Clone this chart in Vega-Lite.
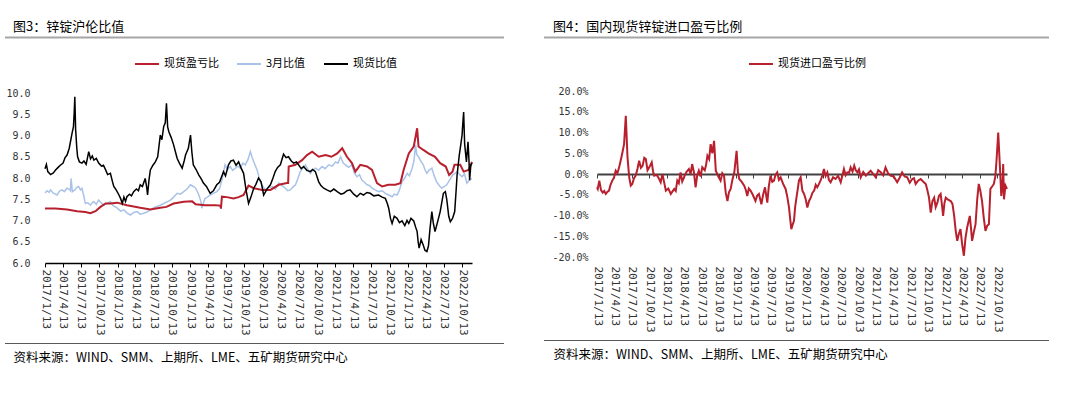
{
  "$schema": "https://vega.github.io/schema/vega-lite/v6.json",
  "padding": {"left": 4, "top": 20, "right": 0, "bottom": 0},
  "background": "white",
  "config": {
    "view": {"stroke": null},
    "font": "Noto Sans CJK SC",
    "title": {"font": "Noto Sans CJK SC", "fontSize": 13, "fontWeight": "normal", "color": "#000000", "anchor": "start"},
    "axis": {"grid": false, "title": null, "labelColor": "#333333"},
    "legend": {"labelLimit": 0}
  },
  "resolve": {"scale": {"color": "independent"}, "legend": {"color": "independent"}},
  "datasets": {
    "zinc": [
      {"d": "2017-01-13", "s": "现货比值", "v": 8.22}, {"d": "2017-01-20", "s": "现货比值", "v": 8.32}, {"d": "2017-01-27", "s": "现货比值", "v": 8.15}, {"d": "2017-02-10", "s": "现货比值", "v": 8.08}, {"d": "2017-02-24", "s": "现货比值", "v": 8.12}, {"d": "2017-03-06", "s": "现货比值", "v": 8.18}, {"d": "2017-03-20", "s": "现货比值", "v": 8.25}, {"d": "2017-03-31", "s": "现货比值", "v": 8.30}, {"d": "2017-04-14", "s": "现货比值", "v": 8.35}, {"d": "2017-04-24", "s": "现货比值", "v": 8.48}, {"d": "2017-05-04", "s": "现货比值", "v": 8.54}, {"d": "2017-05-15", "s": "现货比值", "v": 8.70}, {"d": "2017-05-29", "s": "现货比值", "v": 9.05}, {"d": "2017-06-05", "s": "现货比值", "v": 9.20}, {"d": "2017-06-09", "s": "现货比值", "v": 9.55}, {"d": "2017-06-12", "s": "现货比值", "v": 9.91}, {"d": "2017-06-16", "s": "现货比值", "v": 9.15}, {"d": "2017-06-22", "s": "现货比值", "v": 8.70}, {"d": "2017-06-26", "s": "现货比值", "v": 8.50}, {"d": "2017-07-05", "s": "现货比值", "v": 8.38}, {"d": "2017-07-18", "s": "现货比值", "v": 8.35}, {"d": "2017-07-28", "s": "现货比值", "v": 8.40}, {"d": "2017-08-08", "s": "现货比值", "v": 8.32}, {"d": "2017-08-21", "s": "现货比值", "v": 8.62}, {"d": "2017-08-30", "s": "现货比值", "v": 8.45}, {"d": "2017-09-08", "s": "现货比值", "v": 8.52}, {"d": "2017-09-16", "s": "现货比值", "v": 8.42}, {"d": "2017-09-28", "s": "现货比值", "v": 8.46}, {"d": "2017-10-10", "s": "现货比值", "v": 8.35}, {"d": "2017-10-24", "s": "现货比值", "v": 8.28}, {"d": "2017-11-03", "s": "现货比值", "v": 8.30}, {"d": "2017-11-14", "s": "现货比值", "v": 8.19}, {"d": "2017-11-24", "s": "现货比值", "v": 8.08}, {"d": "2017-12-08", "s": "现货比值", "v": 8.11}, {"d": "2017-12-18", "s": "现货比值", "v": 7.92}, {"d": "2017-12-25", "s": "现货比值", "v": 7.80}, {"d": "2018-01-06", "s": "现货比值", "v": 7.72}, {"d": "2018-01-20", "s": "现货比值", "v": 7.60}, {"d": "2018-01-28", "s": "现货比值", "v": 7.52}, {"d": "2018-02-06", "s": "现货比值", "v": 7.40}, {"d": "2018-02-14", "s": "现货比值", "v": 7.55}, {"d": "2018-02-22", "s": "现货比值", "v": 7.45}, {"d": "2018-03-01", "s": "现货比值", "v": 7.56}, {"d": "2018-03-14", "s": "现货比值", "v": 7.62}, {"d": "2018-03-24", "s": "现货比值", "v": 7.58}, {"d": "2018-04-04", "s": "现货比值", "v": 7.68}, {"d": "2018-04-18", "s": "现货比值", "v": 7.74}, {"d": "2018-04-28", "s": "现货比值", "v": 7.70}, {"d": "2018-05-07", "s": "现货比值", "v": 7.84}, {"d": "2018-05-18", "s": "现货比值", "v": 7.80}, {"d": "2018-06-01", "s": "现货比值", "v": 7.99}, {"d": "2018-06-08", "s": "现货比值", "v": 7.80}, {"d": "2018-06-13", "s": "现货比值", "v": 7.60}, {"d": "2018-06-20", "s": "现货比值", "v": 7.95}, {"d": "2018-06-27", "s": "现货比值", "v": 8.19}, {"d": "2018-07-10", "s": "现货比值", "v": 8.30}, {"d": "2018-07-22", "s": "现货比值", "v": 8.38}, {"d": "2018-08-03", "s": "现货比值", "v": 8.50}, {"d": "2018-08-16", "s": "现货比值", "v": 9.01}, {"d": "2018-08-24", "s": "现货比值", "v": 8.90}, {"d": "2018-09-02", "s": "现货比值", "v": 9.21}, {"d": "2018-09-10", "s": "现货比值", "v": 9.30}, {"d": "2018-09-16", "s": "现货比值", "v": 9.76}, {"d": "2018-09-22", "s": "现货比值", "v": 9.20}, {"d": "2018-09-28", "s": "现货比值", "v": 9.09}, {"d": "2018-10-10", "s": "现货比值", "v": 8.95}, {"d": "2018-10-22", "s": "现货比值", "v": 8.78}, {"d": "2018-11-01", "s": "现货比值", "v": 8.60}, {"d": "2018-11-09", "s": "现货比值", "v": 8.46}, {"d": "2018-11-20", "s": "现货比值", "v": 8.35}, {"d": "2018-12-04", "s": "现货比值", "v": 8.23}, {"d": "2018-12-14", "s": "现货比值", "v": 8.40}, {"d": "2018-12-21", "s": "现货比值", "v": 8.54}, {"d": "2019-01-04", "s": "现货比值", "v": 8.70}, {"d": "2019-01-15", "s": "现货比值", "v": 9.01}, {"d": "2019-01-22", "s": "现货比值", "v": 8.60}, {"d": "2019-01-29", "s": "现货比值", "v": 8.31}, {"d": "2019-02-12", "s": "现货比值", "v": 8.20}, {"d": "2019-02-26", "s": "现货比值", "v": 8.07}, {"d": "2019-03-10", "s": "现货比值", "v": 7.98}, {"d": "2019-03-21", "s": "现货比值", "v": 7.88}, {"d": "2019-04-05", "s": "现货比值", "v": 7.80}, {"d": "2019-04-24", "s": "现货比值", "v": 7.64}, {"d": "2019-05-10", "s": "现货比值", "v": 7.70}, {"d": "2019-05-27", "s": "现货比值", "v": 7.84}, {"d": "2019-06-10", "s": "现货比值", "v": 7.90}, {"d": "2019-06-30", "s": "现货比值", "v": 8.15}, {"d": "2019-07-10", "s": "现货比值", "v": 8.05}, {"d": "2019-07-25", "s": "现货比值", "v": 8.31}, {"d": "2019-08-06", "s": "现货比值", "v": 8.40}, {"d": "2019-08-19", "s": "现货比值", "v": 8.42}, {"d": "2019-09-01", "s": "现货比值", "v": 8.30}, {"d": "2019-09-14", "s": "现货比值", "v": 8.38}, {"d": "2019-09-25", "s": "现货比值", "v": 8.25}, {"d": "2019-10-09", "s": "现货比值", "v": 8.11}, {"d": "2019-10-22", "s": "现货比值", "v": 7.70}, {"d": "2019-11-03", "s": "现货比值", "v": 7.40}, {"d": "2019-11-15", "s": "现货比值", "v": 7.55}, {"d": "2019-11-29", "s": "现货比值", "v": 7.76}, {"d": "2019-12-10", "s": "现货比值", "v": 7.85}, {"d": "2019-12-23", "s": "现货比值", "v": 8.00}, {"d": "2020-01-05", "s": "现货比值", "v": 7.91}, {"d": "2020-01-18", "s": "现货比值", "v": 7.60}, {"d": "2020-02-05", "s": "现货比值", "v": 7.75}, {"d": "2020-02-21", "s": "现货比值", "v": 7.84}, {"d": "2020-03-05", "s": "现货比值", "v": 8.00}, {"d": "2020-03-16", "s": "现货比值", "v": 8.15}, {"d": "2020-03-28", "s": "现货比值", "v": 8.25}, {"d": "2020-04-11", "s": "现货比值", "v": 8.31}, {"d": "2020-04-27", "s": "现货比值", "v": 8.56}, {"d": "2020-05-10", "s": "现货比值", "v": 8.48}, {"d": "2020-05-22", "s": "现货比值", "v": 8.50}, {"d": "2020-06-05", "s": "现货比值", "v": 8.40}, {"d": "2020-06-17", "s": "现货比值", "v": 8.35}, {"d": "2020-07-01", "s": "现货比值", "v": 8.38}, {"d": "2020-07-12", "s": "现货比值", "v": 8.31}, {"d": "2020-07-25", "s": "现货比值", "v": 8.22}, {"d": "2020-08-06", "s": "现货比值", "v": 8.27}, {"d": "2020-08-22", "s": "现货比值", "v": 8.18}, {"d": "2020-09-09", "s": "现货比值", "v": 8.15}, {"d": "2020-09-20", "s": "现货比值", "v": 8.20}, {"d": "2020-10-04", "s": "现货比值", "v": 8.15}, {"d": "2020-10-21", "s": "现货比值", "v": 7.91}, {"d": "2020-11-01", "s": "现货比值", "v": 7.82}, {"d": "2020-11-15", "s": "现货比值", "v": 7.76}, {"d": "2020-12-01", "s": "现货比值", "v": 7.72}, {"d": "2020-12-19", "s": "现货比值", "v": 7.68}, {"d": "2021-01-05", "s": "现货比值", "v": 7.74}, {"d": "2021-01-22", "s": "现货比值", "v": 7.68}, {"d": "2021-02-10", "s": "现货比值", "v": 7.62}, {"d": "2021-02-24", "s": "现货比值", "v": 7.64}, {"d": "2021-03-12", "s": "现货比值", "v": 7.70}, {"d": "2021-03-28", "s": "现货比值", "v": 7.72}, {"d": "2021-04-15", "s": "现货比值", "v": 7.62}, {"d": "2021-05-01", "s": "现货比值", "v": 7.56}, {"d": "2021-05-18", "s": "现货比值", "v": 7.64}, {"d": "2021-06-03", "s": "现货比值", "v": 7.60}, {"d": "2021-06-20", "s": "现货比值", "v": 7.66}, {"d": "2021-07-07", "s": "现货比值", "v": 7.64}, {"d": "2021-07-25", "s": "现货比值", "v": 7.58}, {"d": "2021-08-18", "s": "现货比值", "v": 7.60}, {"d": "2021-09-05", "s": "现货比值", "v": 7.55}, {"d": "2021-09-21", "s": "现货比值", "v": 7.52}, {"d": "2021-10-01", "s": "现货比值", "v": 7.40}, {"d": "2021-10-08", "s": "现货比值", "v": 7.29}, {"d": "2021-10-17", "s": "现货比值", "v": 7.05}, {"d": "2021-10-25", "s": "现货比值", "v": 6.93}, {"d": "2021-11-05", "s": "现货比值", "v": 7.10}, {"d": "2021-11-19", "s": "现货比值", "v": 7.05}, {"d": "2021-12-01", "s": "现货比值", "v": 6.95}, {"d": "2021-12-14", "s": "现货比值", "v": 6.99}, {"d": "2021-12-28", "s": "现货比值", "v": 6.88}, {"d": "2022-01-08", "s": "现货比值", "v": 7.00}, {"d": "2022-01-17", "s": "现货比值", "v": 6.93}, {"d": "2022-01-28", "s": "现货比值", "v": 7.05}, {"d": "2022-02-11", "s": "现货比值", "v": 6.99}, {"d": "2022-02-20", "s": "现货比值", "v": 6.85}, {"d": "2022-02-28", "s": "现货比值", "v": 6.74}, {"d": "2022-03-05", "s": "现货比值", "v": 6.50}, {"d": "2022-03-10", "s": "现货比值", "v": 6.35}, {"d": "2022-03-20", "s": "现货比值", "v": 6.55}, {"d": "2022-03-31", "s": "现货比值", "v": 6.42}, {"d": "2022-04-08", "s": "现货比值", "v": 6.30}, {"d": "2022-04-18", "s": "现货比值", "v": 6.27}, {"d": "2022-04-26", "s": "现货比值", "v": 6.40}, {"d": "2022-05-04", "s": "现货比值", "v": 6.82}, {"d": "2022-05-13", "s": "现货比值", "v": 7.21}, {"d": "2022-05-20", "s": "现货比值", "v": 6.95}, {"d": "2022-05-29", "s": "现货比值", "v": 6.74}, {"d": "2022-06-10", "s": "现货比值", "v": 6.95}, {"d": "2022-06-24", "s": "现货比值", "v": 7.21}, {"d": "2022-07-03", "s": "现货比值", "v": 7.45}, {"d": "2022-07-10", "s": "现货比值", "v": 7.64}, {"d": "2022-07-20", "s": "现货比值", "v": 7.68}, {"d": "2022-07-27", "s": "现货比值", "v": 7.50}, {"d": "2022-08-06", "s": "现货比值", "v": 7.10}, {"d": "2022-08-14", "s": "现货比值", "v": 6.97}, {"d": "2022-08-25", "s": "现货比值", "v": 7.05}, {"d": "2022-09-05", "s": "现货比值", "v": 7.21}, {"d": "2022-09-12", "s": "现货比值", "v": 7.70}, {"d": "2022-09-17", "s": "现货比值", "v": 8.07}, {"d": "2022-09-28", "s": "现货比值", "v": 8.54}, {"d": "2022-10-06", "s": "现货比值", "v": 8.80}, {"d": "2022-10-12", "s": "现货比值", "v": 9.01}, {"d": "2022-10-16", "s": "现货比值", "v": 9.30}, {"d": "2022-10-20", "s": "现货比值", "v": 9.55}, {"d": "2022-10-25", "s": "现货比值", "v": 8.80}, {"d": "2022-11-03", "s": "现货比值", "v": 8.38}, {"d": "2022-11-11", "s": "现货比值", "v": 8.85}, {"d": "2022-11-16", "s": "现货比值", "v": 8.40}, {"d": "2022-11-19", "s": "现货比值", "v": 7.95}, {"d": "2022-11-25", "s": "现货比值", "v": 8.30}, {"d": "2022-12-01", "s": "现货比值", "v": 8.35},

      {"d": "2017-01-13", "s": "3月比值", "v": 7.65}, {"d": "2017-01-24", "s": "3月比值", "v": 7.70}, {"d": "2017-02-03", "s": "3月比值", "v": 7.66}, {"d": "2017-02-10", "s": "3月比值", "v": 7.72}, {"d": "2017-02-22", "s": "3月比值", "v": 7.65}, {"d": "2017-03-06", "s": "3月比值", "v": 7.62}, {"d": "2017-03-15", "s": "3月比值", "v": 7.60}, {"d": "2017-03-28", "s": "3月比值", "v": 7.70}, {"d": "2017-04-09", "s": "3月比值", "v": 7.72}, {"d": "2017-04-20", "s": "3月比值", "v": 7.68}, {"d": "2017-05-04", "s": "3月比值", "v": 7.76}, {"d": "2017-05-14", "s": "3月比值", "v": 7.74}, {"d": "2017-05-21", "s": "3月比值", "v": 7.70}, {"d": "2017-05-24", "s": "3月比值", "v": 7.99}, {"d": "2017-05-31", "s": "3月比值", "v": 7.68}, {"d": "2017-06-12", "s": "3月比值", "v": 7.72}, {"d": "2017-06-22", "s": "3月比值", "v": 7.78}, {"d": "2017-07-01", "s": "3月比值", "v": 7.80}, {"d": "2017-07-10", "s": "3月比值", "v": 7.72}, {"d": "2017-07-18", "s": "3月比值", "v": 7.76}, {"d": "2017-07-26", "s": "3月比值", "v": 7.60}, {"d": "2017-08-04", "s": "3月比值", "v": 7.40}, {"d": "2017-08-16", "s": "3月比值", "v": 7.42}, {"d": "2017-08-29", "s": "3月比值", "v": 7.36}, {"d": "2017-09-08", "s": "3月比值", "v": 7.42}, {"d": "2017-09-16", "s": "3月比值", "v": 7.44}, {"d": "2017-09-28", "s": "3月比值", "v": 7.38}, {"d": "2017-10-10", "s": "3月比值", "v": 7.48}, {"d": "2017-10-22", "s": "3月比值", "v": 7.42}, {"d": "2017-11-05", "s": "3月比值", "v": 7.36}, {"d": "2017-11-20", "s": "3月比值", "v": 7.40}, {"d": "2017-12-08", "s": "3月比值", "v": 7.44}, {"d": "2017-12-22", "s": "3月比值", "v": 7.35}, {"d": "2018-01-12", "s": "3月比值", "v": 7.29}, {"d": "2018-01-28", "s": "3月比值", "v": 7.22}, {"d": "2018-02-14", "s": "3月比值", "v": 7.25}, {"d": "2018-03-01", "s": "3月比值", "v": 7.18}, {"d": "2018-03-18", "s": "3月比值", "v": 7.13}, {"d": "2018-04-04", "s": "3月比值", "v": 7.19}, {"d": "2018-04-21", "s": "3月比值", "v": 7.21}, {"d": "2018-05-07", "s": "3月比值", "v": 7.15}, {"d": "2018-05-24", "s": "3月比值", "v": 7.17}, {"d": "2018-06-10", "s": "3月比值", "v": 7.20}, {"d": "2018-06-27", "s": "3月比值", "v": 7.25}, {"d": "2018-07-14", "s": "3月比值", "v": 7.30}, {"d": "2018-07-30", "s": "3月比值", "v": 7.33}, {"d": "2018-08-16", "s": "3月比值", "v": 7.36}, {"d": "2018-09-02", "s": "3月比值", "v": 7.40}, {"d": "2018-09-20", "s": "3月比值", "v": 7.44}, {"d": "2018-10-06", "s": "3月比值", "v": 7.48}, {"d": "2018-10-22", "s": "3月比值", "v": 7.55}, {"d": "2018-11-09", "s": "3月比值", "v": 7.64}, {"d": "2018-11-25", "s": "3月比值", "v": 7.62}, {"d": "2018-12-12", "s": "3月比值", "v": 7.68}, {"d": "2018-12-28", "s": "3月比值", "v": 7.74}, {"d": "2019-01-15", "s": "3月比值", "v": 7.84}, {"d": "2019-01-29", "s": "3月比值", "v": 7.80}, {"d": "2019-02-10", "s": "3月比值", "v": 7.76}, {"d": "2019-02-26", "s": "3月比值", "v": 7.60}, {"d": "2019-03-08", "s": "3月比值", "v": 7.45}, {"d": "2019-03-13", "s": "3月比值", "v": 7.29}, {"d": "2019-03-20", "s": "3月比值", "v": 7.40}, {"d": "2019-03-29", "s": "3月比值", "v": 7.52}, {"d": "2019-04-10", "s": "3月比值", "v": 7.55}, {"d": "2019-04-24", "s": "3月比值", "v": 7.60}, {"d": "2019-05-10", "s": "3月比值", "v": 7.64}, {"d": "2019-05-27", "s": "3月比值", "v": 7.68}, {"d": "2019-06-10", "s": "3月比值", "v": 7.75}, {"d": "2019-06-22", "s": "3月比值", "v": 7.95}, {"d": "2019-07-08", "s": "3月比值", "v": 8.31}, {"d": "2019-07-20", "s": "3月比值", "v": 8.20}, {"d": "2019-08-03", "s": "3月比值", "v": 8.27}, {"d": "2019-08-15", "s": "3月比值", "v": 8.18}, {"d": "2019-08-28", "s": "3月比值", "v": 8.23}, {"d": "2019-09-10", "s": "3月比值", "v": 8.28}, {"d": "2019-09-23", "s": "3月比值", "v": 8.23}, {"d": "2019-10-05", "s": "3月比值", "v": 8.35}, {"d": "2019-10-18", "s": "3月比值", "v": 8.31}, {"d": "2019-11-01", "s": "3月比值", "v": 8.45}, {"d": "2019-11-12", "s": "3月比值", "v": 8.62}, {"d": "2019-11-20", "s": "3月比值", "v": 8.50}, {"d": "2019-11-29", "s": "3月比值", "v": 8.38}, {"d": "2019-12-16", "s": "3月比值", "v": 8.19}, {"d": "2020-01-01", "s": "3月比值", "v": 7.91}, {"d": "2020-01-14", "s": "3月比值", "v": 7.80}, {"d": "2020-01-27", "s": "3月比值", "v": 7.72}, {"d": "2020-02-13", "s": "3月比值", "v": 7.78}, {"d": "2020-03-02", "s": "3月比值", "v": 7.80}, {"d": "2020-03-17", "s": "3月比值", "v": 7.74}, {"d": "2020-04-03", "s": "3月比值", "v": 7.88}, {"d": "2020-04-20", "s": "3月比值", "v": 7.82}, {"d": "2020-05-06", "s": "3月比值", "v": 7.76}, {"d": "2020-05-18", "s": "3月比值", "v": 7.70}, {"d": "2020-05-31", "s": "3月比值", "v": 7.72}, {"d": "2020-06-12", "s": "3月比值", "v": 7.78}, {"d": "2020-06-26", "s": "3月比值", "v": 7.84}, {"d": "2020-07-08", "s": "3月比值", "v": 7.98}, {"d": "2020-07-20", "s": "3月比值", "v": 8.15}, {"d": "2020-08-01", "s": "3月比值", "v": 8.22}, {"d": "2020-08-15", "s": "3月比值", "v": 8.31}, {"d": "2020-08-28", "s": "3月比值", "v": 8.20}, {"d": "2020-09-09", "s": "3月比值", "v": 8.11}, {"d": "2020-09-20", "s": "3月比值", "v": 8.18}, {"d": "2020-10-04", "s": "3月比值", "v": 8.23}, {"d": "2020-10-20", "s": "3月比值", "v": 8.18}, {"d": "2020-11-07", "s": "3月比值", "v": 8.27}, {"d": "2020-11-22", "s": "3月比值", "v": 8.22}, {"d": "2020-12-10", "s": "3月比值", "v": 8.31}, {"d": "2020-12-28", "s": "3月比值", "v": 8.28}, {"d": "2021-01-14", "s": "3月比值", "v": 8.38}, {"d": "2021-01-26", "s": "3月比值", "v": 8.35}, {"d": "2021-02-08", "s": "3月比值", "v": 8.50}, {"d": "2021-02-20", "s": "3月比值", "v": 8.36}, {"d": "2021-03-04", "s": "3月比值", "v": 8.31}, {"d": "2021-03-20", "s": "3月比值", "v": 8.25}, {"d": "2021-04-06", "s": "3月比值", "v": 8.31}, {"d": "2021-04-18", "s": "3月比值", "v": 8.12}, {"d": "2021-05-01", "s": "3月比值", "v": 8.03}, {"d": "2021-05-14", "s": "3月比值", "v": 8.08}, {"d": "2021-05-26", "s": "3月比值", "v": 7.95}, {"d": "2021-06-08", "s": "3月比值", "v": 7.90}, {"d": "2021-06-21", "s": "3月比值", "v": 7.84}, {"d": "2021-07-05", "s": "3月比值", "v": 7.82}, {"d": "2021-07-16", "s": "3月比值", "v": 7.76}, {"d": "2021-08-01", "s": "3月比值", "v": 7.72}, {"d": "2021-08-18", "s": "3月比值", "v": 7.68}, {"d": "2021-09-05", "s": "3月比值", "v": 7.70}, {"d": "2021-09-21", "s": "3月比值", "v": 7.64}, {"d": "2021-10-08", "s": "3月比值", "v": 7.60}, {"d": "2021-10-25", "s": "3月比值", "v": 7.56}, {"d": "2021-11-05", "s": "3月比值", "v": 7.62}, {"d": "2021-11-19", "s": "3月比值", "v": 7.60}, {"d": "2021-12-01", "s": "3月比值", "v": 7.72}, {"d": "2021-12-14", "s": "3月比值", "v": 7.91}, {"d": "2021-12-28", "s": "3月比值", "v": 8.00}, {"d": "2022-01-09", "s": "3月比值", "v": 8.11}, {"d": "2022-01-20", "s": "3月比值", "v": 8.05}, {"d": "2022-02-03", "s": "3月比值", "v": 8.23}, {"d": "2022-02-12", "s": "3月比值", "v": 8.40}, {"d": "2022-02-20", "s": "3月比值", "v": 8.78}, {"d": "2022-02-26", "s": "3月比值", "v": 8.55}, {"d": "2022-03-07", "s": "3月比值", "v": 8.50}, {"d": "2022-03-18", "s": "3月比值", "v": 8.40}, {"d": "2022-03-31", "s": "3月比值", "v": 8.31}, {"d": "2022-04-08", "s": "3月比值", "v": 8.20}, {"d": "2022-04-18", "s": "3月比值", "v": 8.11}, {"d": "2022-04-28", "s": "3月比值", "v": 8.18}, {"d": "2022-05-13", "s": "3月比值", "v": 8.23}, {"d": "2022-05-25", "s": "3月比值", "v": 8.05}, {"d": "2022-06-06", "s": "3月比值", "v": 7.91}, {"d": "2022-06-20", "s": "3月比值", "v": 7.82}, {"d": "2022-07-02", "s": "3月比值", "v": 7.76}, {"d": "2022-07-14", "s": "3月比值", "v": 7.80}, {"d": "2022-07-27", "s": "3月比值", "v": 7.84}, {"d": "2022-08-10", "s": "3月比值", "v": 7.95}, {"d": "2022-08-25", "s": "3月比值", "v": 8.07}, {"d": "2022-09-05", "s": "3月比值", "v": 8.10}, {"d": "2022-09-17", "s": "3月比值", "v": 8.15}, {"d": "2022-09-30", "s": "3月比值", "v": 8.08}, {"d": "2022-10-12", "s": "3月比值", "v": 8.03}, {"d": "2022-10-24", "s": "3月比值", "v": 8.10}, {"d": "2022-11-05", "s": "3月比值", "v": 7.88}, {"d": "2022-11-18", "s": "3月比值", "v": 7.95}, {"d": "2022-12-01", "s": "3月比值", "v": 7.99},

      {"d": "2017-01-13", "s": "现货盈亏比", "v": 7.28}, {"d": "2017-03-06", "s": "现货盈亏比", "v": 7.28}, {"d": "2017-05-04", "s": "现货盈亏比", "v": 7.26}, {"d": "2017-06-24", "s": "现货盈亏比", "v": 7.22}, {"d": "2017-08-04", "s": "现货盈亏比", "v": 7.20}, {"d": "2017-08-29", "s": "现货盈亏比", "v": 7.17}, {"d": "2017-09-24", "s": "现货盈亏比", "v": 7.22}, {"d": "2017-10-19", "s": "现货盈亏比", "v": 7.32}, {"d": "2017-11-14", "s": "现货盈亏比", "v": 7.40}, {"d": "2017-12-08", "s": "现货盈亏比", "v": 7.40}, {"d": "2018-01-12", "s": "现货盈亏比", "v": 7.42}, {"d": "2018-03-01", "s": "现货盈亏比", "v": 7.36}, {"d": "2018-04-04", "s": "现货盈亏比", "v": 7.33}, {"d": "2018-05-07", "s": "现货盈亏比", "v": 7.30}, {"d": "2018-06-27", "s": "现货盈亏比", "v": 7.26}, {"d": "2018-08-16", "s": "现货盈亏比", "v": 7.30}, {"d": "2018-09-16", "s": "现货盈亏比", "v": 7.32}, {"d": "2018-10-22", "s": "现货盈亏比", "v": 7.40}, {"d": "2018-12-12", "s": "现货盈亏比", "v": 7.44}, {"d": "2019-01-23", "s": "现货盈亏比", "v": 7.45}, {"d": "2019-02-10", "s": "现货盈亏比", "v": 7.38}, {"d": "2019-03-29", "s": "现货盈亏比", "v": 7.36}, {"d": "2019-05-19", "s": "现货盈亏比", "v": 7.36}, {"d": "2019-06-14", "s": "现货盈亏比", "v": 7.35}, {"d": "2019-06-17", "s": "现货盈亏比", "v": 7.28}, {"d": "2019-06-22", "s": "现货盈亏比", "v": 7.56}, {"d": "2019-07-17", "s": "现货盈亏比", "v": 7.55}, {"d": "2019-08-19", "s": "现货盈亏比", "v": 7.52}, {"d": "2019-09-14", "s": "现货盈亏比", "v": 7.55}, {"d": "2019-10-09", "s": "现货盈亏比", "v": 7.60}, {"d": "2019-10-22", "s": "现货盈亏比", "v": 7.72}, {"d": "2019-11-03", "s": "现货盈亏比", "v": 7.82}, {"d": "2019-11-29", "s": "现货盈亏比", "v": 7.76}, {"d": "2020-01-10", "s": "现货盈亏比", "v": 7.72}, {"d": "2020-02-21", "s": "现货盈亏比", "v": 7.72}, {"d": "2020-04-03", "s": "现货盈亏比", "v": 7.84}, {"d": "2020-05-14", "s": "现货盈亏比", "v": 7.88}, {"d": "2020-05-20", "s": "现货盈亏比", "v": 7.88}, {"d": "2020-05-23", "s": "现货盈亏比", "v": 8.27}, {"d": "2020-06-26", "s": "现货盈亏比", "v": 8.31}, {"d": "2020-07-29", "s": "现货盈亏比", "v": 8.42}, {"d": "2020-08-23", "s": "现货盈亏比", "v": 8.54}, {"d": "2020-09-18", "s": "现货盈亏比", "v": 8.62}, {"d": "2020-10-21", "s": "现货盈亏比", "v": 8.50}, {"d": "2020-11-24", "s": "现货盈亏比", "v": 8.54}, {"d": "2020-12-24", "s": "现货盈亏比", "v": 8.50}, {"d": "2021-01-22", "s": "现货盈亏比", "v": 8.58}, {"d": "2021-02-16", "s": "现货盈亏比", "v": 8.70}, {"d": "2021-03-12", "s": "现货盈亏比", "v": 8.50}, {"d": "2021-04-06", "s": "现货盈亏比", "v": 8.35}, {"d": "2021-04-23", "s": "现货盈亏比", "v": 8.15}, {"d": "2021-05-18", "s": "现货盈亏比", "v": 8.31}, {"d": "2021-06-21", "s": "现货盈亏比", "v": 8.27}, {"d": "2021-07-16", "s": "现货盈亏比", "v": 8.19}, {"d": "2021-08-10", "s": "现货盈亏比", "v": 7.88}, {"d": "2021-09-05", "s": "现货盈亏比", "v": 7.80}, {"d": "2021-10-06", "s": "现货盈亏比", "v": 7.84}, {"d": "2021-11-10", "s": "现货盈亏比", "v": 7.84}, {"d": "2021-12-06", "s": "现货盈亏比", "v": 7.88}, {"d": "2021-12-22", "s": "现货盈亏比", "v": 8.19}, {"d": "2022-01-17", "s": "现货盈亏比", "v": 8.58}, {"d": "2022-02-11", "s": "现货盈亏比", "v": 8.74}, {"d": "2022-02-28", "s": "现货盈亏比", "v": 9.17}, {"d": "2022-03-07", "s": "现货盈亏比", "v": 8.74}, {"d": "2022-03-31", "s": "现货盈亏比", "v": 8.66}, {"d": "2022-04-26", "s": "现货盈亏比", "v": 8.58}, {"d": "2022-05-29", "s": "现货盈亏比", "v": 8.50}, {"d": "2022-06-24", "s": "现货盈亏比", "v": 8.35}, {"d": "2022-07-22", "s": "现货盈亏比", "v": 8.27}, {"d": "2022-08-08", "s": "现货盈亏比", "v": 8.07}, {"d": "2022-08-25", "s": "现货盈亏比", "v": 8.15}, {"d": "2022-09-04", "s": "现货盈亏比", "v": 8.31}, {"d": "2022-10-03", "s": "现货盈亏比", "v": 8.31}, {"d": "2022-10-20", "s": "现货盈亏比", "v": 8.15}, {"d": "2022-11-14", "s": "现货盈亏比", "v": 8.19}, {"d": "2022-12-01", "s": "现货盈亏比", "v": 8.38}
    ],
    "imp": [
      {"d": "2017-01-13", "v": -3.2}, {"d": "2017-01-17", "v": -3.6}, {"d": "2017-01-25", "v": -1.6}, {"d": "2017-02-03", "v": -3.9}, {"d": "2017-02-12", "v": -4.5}, {"d": "2017-02-20", "v": -4.1}, {"d": "2017-02-28", "v": -4.8}, {"d": "2017-03-08", "v": -4.3}, {"d": "2017-03-17", "v": -4.0}, {"d": "2017-03-25", "v": -2.6}, {"d": "2017-04-03", "v": -1.6}, {"d": "2017-04-12", "v": -0.9}, {"d": "2017-04-21", "v": 0.8}, {"d": "2017-04-30", "v": 0.2}, {"d": "2017-05-09", "v": 1.6}, {"d": "2017-05-17", "v": 3.2}, {"d": "2017-05-26", "v": 5.1}, {"d": "2017-06-04", "v": 7.2}, {"d": "2017-06-13", "v": 14.0}, {"d": "2017-06-22", "v": 4.0}, {"d": "2017-07-01", "v": -0.8}, {"d": "2017-07-09", "v": -2.8}, {"d": "2017-07-17", "v": -2.4}, {"d": "2017-07-26", "v": -1.0}, {"d": "2017-08-04", "v": -0.4}, {"d": "2017-08-13", "v": 1.2}, {"d": "2017-08-22", "v": 3.2}, {"d": "2017-08-31", "v": 1.5}, {"d": "2017-09-09", "v": 2.0}, {"d": "2017-09-18", "v": 3.9}, {"d": "2017-09-26", "v": 3.6}, {"d": "2017-10-05", "v": 0.9}, {"d": "2017-10-14", "v": 1.6}, {"d": "2017-10-27", "v": 2.8}, {"d": "2017-11-03", "v": 0.6}, {"d": "2017-11-09", "v": -0.4}, {"d": "2017-11-22", "v": -0.2}, {"d": "2017-12-05", "v": -1.2}, {"d": "2017-12-13", "v": -2.0}, {"d": "2017-12-22", "v": 0.0}, {"d": "2018-01-01", "v": -2.2}, {"d": "2018-01-09", "v": -4.0}, {"d": "2018-01-22", "v": -3.5}, {"d": "2018-02-04", "v": -4.8}, {"d": "2018-02-13", "v": -4.2}, {"d": "2018-02-22", "v": -3.6}, {"d": "2018-03-02", "v": -4.1}, {"d": "2018-03-10", "v": -1.6}, {"d": "2018-03-18", "v": -2.2}, {"d": "2018-03-27", "v": 0.4}, {"d": "2018-04-05", "v": -1.8}, {"d": "2018-04-14", "v": -0.8}, {"d": "2018-04-27", "v": 0.5}, {"d": "2018-05-10", "v": 1.2}, {"d": "2018-05-19", "v": 0.0}, {"d": "2018-05-27", "v": 2.4}, {"d": "2018-06-05", "v": 0.5}, {"d": "2018-06-14", "v": -3.2}, {"d": "2018-06-22", "v": -0.5}, {"d": "2018-07-01", "v": 0.8}, {"d": "2018-07-10", "v": -0.6}, {"d": "2018-07-19", "v": 1.6}, {"d": "2018-08-01", "v": 0.9}, {"d": "2018-08-08", "v": 2.2}, {"d": "2018-08-15", "v": 4.4}, {"d": "2018-08-24", "v": 3.6}, {"d": "2018-09-01", "v": 7.2}, {"d": "2018-09-10", "v": 5.0}, {"d": "2018-09-19", "v": 8.0}, {"d": "2018-09-28", "v": 0.8}, {"d": "2018-10-10", "v": -0.5}, {"d": "2018-10-23", "v": -1.6}, {"d": "2018-11-01", "v": 0.2}, {"d": "2018-11-10", "v": -0.4}, {"d": "2018-11-19", "v": -4.5}, {"d": "2018-11-28", "v": -6.5}, {"d": "2018-12-06", "v": -4.4}, {"d": "2018-12-15", "v": -3.6}, {"d": "2018-12-24", "v": -1.4}, {"d": "2019-01-03", "v": 0.4}, {"d": "2019-01-15", "v": 5.6}, {"d": "2019-01-22", "v": 0.5}, {"d": "2019-01-29", "v": -1.2}, {"d": "2019-02-11", "v": -1.9}, {"d": "2019-02-24", "v": -2.8}, {"d": "2019-03-04", "v": -3.8}, {"d": "2019-03-12", "v": -5.3}, {"d": "2019-03-20", "v": -3.5}, {"d": "2019-03-29", "v": -4.0}, {"d": "2019-04-10", "v": -5.0}, {"d": "2019-04-24", "v": -6.5}, {"d": "2019-05-03", "v": -5.2}, {"d": "2019-05-12", "v": -4.8}, {"d": "2019-05-25", "v": -7.3}, {"d": "2019-06-03", "v": -5.0}, {"d": "2019-06-13", "v": -3.2}, {"d": "2019-06-25", "v": -6.9}, {"d": "2019-07-03", "v": -3.0}, {"d": "2019-07-12", "v": -0.4}, {"d": "2019-07-21", "v": -1.9}, {"d": "2019-07-30", "v": -1.6}, {"d": "2019-08-07", "v": -0.2}, {"d": "2019-08-16", "v": 0.4}, {"d": "2019-08-25", "v": -1.4}, {"d": "2019-09-03", "v": -0.8}, {"d": "2019-09-16", "v": -2.4}, {"d": "2019-09-29", "v": -3.6}, {"d": "2019-10-08", "v": -5.5}, {"d": "2019-10-17", "v": -8.1}, {"d": "2019-10-23", "v": -10.8}, {"d": "2019-10-29", "v": -13.3}, {"d": "2019-11-05", "v": -12.2}, {"d": "2019-11-12", "v": -11.3}, {"d": "2019-11-18", "v": -8.0}, {"d": "2019-11-25", "v": -5.7}, {"d": "2019-12-02", "v": -3.5}, {"d": "2019-12-08", "v": -1.6}, {"d": "2019-12-17", "v": -0.8}, {"d": "2019-12-26", "v": -4.0}, {"d": "2020-01-04", "v": -4.8}, {"d": "2020-01-12", "v": -6.0}, {"d": "2020-01-21", "v": -8.1}, {"d": "2020-01-30", "v": -6.5}, {"d": "2020-02-08", "v": -5.7}, {"d": "2020-02-17", "v": -4.5}, {"d": "2020-02-26", "v": -4.0}, {"d": "2020-03-05", "v": -2.6}, {"d": "2020-03-13", "v": -3.2}, {"d": "2020-03-21", "v": -2.5}, {"d": "2020-03-30", "v": -1.6}, {"d": "2020-04-08", "v": -0.5}, {"d": "2020-04-17", "v": 1.2}, {"d": "2020-04-26", "v": -0.5}, {"d": "2020-05-05", "v": 0.4}, {"d": "2020-05-13", "v": -1.4}, {"d": "2020-05-22", "v": -2.0}, {"d": "2020-06-04", "v": -0.8}, {"d": "2020-06-17", "v": -1.2}, {"d": "2020-06-30", "v": -0.4}, {"d": "2020-07-14", "v": -2.0}, {"d": "2020-07-22", "v": -0.5}, {"d": "2020-07-31", "v": 1.2}, {"d": "2020-08-09", "v": -0.3}, {"d": "2020-08-18", "v": 0.4}, {"d": "2020-08-27", "v": 0.3}, {"d": "2020-09-04", "v": 1.6}, {"d": "2020-09-14", "v": 0.6}, {"d": "2020-09-23", "v": 2.0}, {"d": "2020-10-01", "v": 0.9}, {"d": "2020-10-10", "v": 0.4}, {"d": "2020-10-18", "v": 1.1}, {"d": "2020-10-27", "v": -0.8}, {"d": "2020-11-09", "v": 0.5}, {"d": "2020-11-23", "v": -0.4}, {"d": "2020-12-05", "v": 0.2}, {"d": "2020-12-18", "v": 0.8}, {"d": "2021-01-01", "v": 0.0}, {"d": "2021-01-14", "v": -0.8}, {"d": "2021-01-27", "v": 0.9}, {"d": "2021-02-10", "v": 0.4}, {"d": "2021-02-22", "v": -0.3}, {"d": "2021-03-06", "v": 1.6}, {"d": "2021-03-19", "v": 0.2}, {"d": "2021-04-01", "v": -0.4}, {"d": "2021-04-18", "v": -0.6}, {"d": "2021-05-06", "v": -2.0}, {"d": "2021-05-19", "v": -0.9}, {"d": "2021-06-01", "v": 0.4}, {"d": "2021-06-14", "v": -0.6}, {"d": "2021-06-28", "v": -0.8}, {"d": "2021-07-11", "v": -2.1}, {"d": "2021-07-24", "v": -1.2}, {"d": "2021-08-02", "v": -1.0}, {"d": "2021-08-11", "v": -2.4}, {"d": "2021-08-24", "v": -1.6}, {"d": "2021-09-06", "v": -1.2}, {"d": "2021-09-19", "v": -1.8}, {"d": "2021-10-03", "v": -2.4}, {"d": "2021-10-11", "v": -3.8}, {"d": "2021-10-20", "v": -5.7}, {"d": "2021-10-29", "v": -9.3}, {"d": "2021-11-07", "v": -6.5}, {"d": "2021-11-16", "v": -5.7}, {"d": "2021-11-24", "v": -8.0}, {"d": "2021-12-03", "v": -6.9}, {"d": "2021-12-11", "v": -5.3}, {"d": "2021-12-20", "v": -4.8}, {"d": "2021-12-27", "v": -7.5}, {"d": "2022-01-02", "v": -10.1}, {"d": "2022-01-09", "v": -7.0}, {"d": "2022-01-16", "v": -5.7}, {"d": "2022-01-28", "v": -6.2}, {"d": "2022-02-11", "v": -6.5}, {"d": "2022-02-20", "v": -7.2}, {"d": "2022-03-01", "v": -10.1}, {"d": "2022-03-09", "v": -13.7}, {"d": "2022-03-17", "v": -16.1}, {"d": "2022-03-25", "v": -14.5}, {"d": "2022-04-03", "v": -13.3}, {"d": "2022-04-12", "v": -17.0}, {"d": "2022-04-21", "v": -19.7}, {"d": "2022-04-29", "v": -15.5}, {"d": "2022-05-08", "v": -12.9}, {"d": "2022-05-15", "v": -11.5}, {"d": "2022-05-22", "v": -10.1}, {"d": "2022-05-28", "v": -13.0}, {"d": "2022-06-03", "v": -16.1}, {"d": "2022-06-12", "v": -14.0}, {"d": "2022-06-21", "v": -12.1}, {"d": "2022-06-30", "v": -6.0}, {"d": "2022-07-08", "v": -2.4}, {"d": "2022-07-16", "v": -4.0}, {"d": "2022-07-25", "v": -6.5}, {"d": "2022-08-03", "v": -10.5}, {"d": "2022-08-12", "v": -13.7}, {"d": "2022-08-21", "v": -12.5}, {"d": "2022-08-30", "v": -12.1}, {"d": "2022-09-07", "v": -3.6}, {"d": "2022-09-16", "v": -3.0}, {"d": "2022-09-25", "v": -2.4}, {"d": "2022-10-03", "v": -0.5}, {"d": "2022-10-09", "v": 3.2}, {"d": "2022-10-18", "v": 10.0}, {"d": "2022-10-27", "v": 1.6}, {"d": "2022-11-03", "v": -5.3}, {"d": "2022-11-09", "v": -3.0}, {"d": "2022-11-13", "v": 2.4}, {"d": "2022-11-17", "v": -6.1}, {"d": "2022-11-25", "v": -2.8}, {"d": "2022-12-03", "v": -3.6}
    ]
  },
  "hconcat": [
    {
      "resolve": {"scale": {"color": "independent"}, "legend": {"color": "independent"}},
      "vconcat": [
        {
          "width": 459, "height": 1,
          "data": {"values": [{}]},
          "title": {"text": "图3：锌锭沪伦比值", "anchor": "start", "dx": 9, "offset": 3},
          "mark": {"type": "rule", "color": "#a6a6a6", "strokeWidth": 2, "xOffset": -40},
          "encoding": {"x": {"datum": 0, "type": "quantitative", "scale": {"domain": [0, 1]}, "axis": null}, "x2": {"datum": 1}}
        },
        {
          "resolve": {"scale": {"color": "independent"}, "legend": {"color": "independent"}},
          "vconcat": [
            {
              "width": 427, "height": 170,
              "data": {"name": "zinc"},
              "encoding": {
                "x": {"field": "d", "type": "temporal",
                  "scale": {"type": "utc", "nice": false, "domain": [{"year": 2017, "month": 1, "date": 13, "utc": true}, {"year": 2022, "month": 12, "date": 1, "utc": true}]},
                  "axis": {"values": [{"year": 2017, "month": 1, "date": 13, "utc": true}, {"year": 2017, "month": 4, "date": 13, "utc": true}, {"year": 2017, "month": 7, "date": 13, "utc": true}, {"year": 2017, "month": 10, "date": 13, "utc": true}, {"year": 2018, "month": 1, "date": 13, "utc": true}, {"year": 2018, "month": 4, "date": 13, "utc": true}, {"year": 2018, "month": 7, "date": 13, "utc": true}, {"year": 2018, "month": 10, "date": 13, "utc": true}, {"year": 2019, "month": 1, "date": 13, "utc": true}, {"year": 2019, "month": 4, "date": 13, "utc": true}, {"year": 2019, "month": 7, "date": 13, "utc": true}, {"year": 2019, "month": 10, "date": 13, "utc": true}, {"year": 2020, "month": 1, "date": 13, "utc": true}, {"year": 2020, "month": 4, "date": 13, "utc": true}, {"year": 2020, "month": 7, "date": 13, "utc": true}, {"year": 2020, "month": 10, "date": 13, "utc": true}, {"year": 2021, "month": 1, "date": 13, "utc": true}, {"year": 2021, "month": 4, "date": 13, "utc": true}, {"year": 2021, "month": 7, "date": 13, "utc": true}, {"year": 2021, "month": 10, "date": 13, "utc": true}, {"year": 2022, "month": 1, "date": 13, "utc": true}, {"year": 2022, "month": 4, "date": 13, "utc": true}, {"year": 2022, "month": 7, "date": 13, "utc": true}, {"year": 2022, "month": 10, "date": 13, "utc": true}],
                    "labelExpr": "utcFormat(datum.value, '%Y/%-m/%-d')", "labelAngle": 90, "labelFont": "DejaVu Sans Mono", "labelFontSize": 11, "labelPadding": 2, "labelOverlap": false, "labelBound": false, "labelFlush": false,
                    "tickSize": 4, "tickColor": "#000000", "domainColor": "#000000", "domainWidth": 1.5}},
                "y": {"field": "v", "type": "quantitative",
                  "scale": {"domain": [6, 10], "nice": false, "zero": false},
                  "axis": {"values": [6, 6.5, 7, 7.5, 8, 8.5, 9, 9.5, 10], "format": ".1f", "domain": false, "ticks": false, "labelFont": "DejaVu Sans Mono", "labelFontSize": 10, "labelPadding": 15, "minExtent": 40}},
                "color": {"field": "s", "type": "nominal",
                  "scale": {"domain": ["现货盈亏比", "3月比值", "现货比值"], "range": ["#B8202E", "#A9C3E8", "#000000"]},
                  "legend": {"title": null, "orient": "none", "direction": "horizontal", "legendX": 89, "legendY": -42, "symbolType": "stroke", "symbolSize": 576, "symbolStrokeWidth": 2, "labelFont": "Noto Sans CJK SC", "labelFontSize": 11, "labelColor": "#000000", "columnPadding": 14, "padding": 0}}
              },
              "layer": [
                {"transform": [{"filter": "datum.s === '3月比值'"}], "mark": {"type": "line", "strokeWidth": 1.5}},
                {"transform": [{"filter": "datum.s === '现货盈亏比'"}], "mark": {"type": "line", "strokeWidth": 2}},
                {"transform": [{"filter": "datum.s === '现货比值'"}], "mark": {"type": "line", "strokeWidth": 1.5}}
              ]
            },
            {
              "width": 459, "height": 1,
              "data": {"values": [{}]},
              "title": {"text": "资料来源：WIND、SMM、上期所、LME、五矿期货研究中心", "orient": "bottom", "anchor": "start", "dx": 9, "offset": 8, "fontSize": 12.5},
              "mark": {"type": "rule", "color": "#595959", "strokeWidth": 1, "xOffset": -40},
              "encoding": {"x": {"datum": 0, "type": "quantitative", "scale": {"domain": [0, 1]}, "axis": null}, "x2": {"datum": 1}}
            }
          ],
          "spacing": 7
        }
      ],
      "spacing": 12
    },
    {
      "resolve": {"scale": {"color": "independent"}, "legend": {"color": "independent"}},
      "vconcat": [
        {
          "width": 452, "height": 1,
          "data": {"values": [{}]},
          "title": {"text": "图4：国内现货锌锭进口盈亏比例", "anchor": "start", "dx": 10, "offset": 3},
          "mark": {"type": "rule", "color": "#a6a6a6", "strokeWidth": 2, "xOffset": -53},
          "encoding": {"x": {"datum": 0, "type": "quantitative", "scale": {"domain": [0, 1]}, "axis": null}, "x2": {"datum": 1}}
        },
        {
          "resolve": {"scale": {"color": "independent"}, "legend": {"color": "independent"}},
          "vconcat": [
            {
              "width": 410, "height": 166,
              "data": {"name": "imp"},
              "mark": {"type": "line", "strokeWidth": 2},
              "encoding": {
                "x": {"field": "d", "type": "temporal",
                  "scale": {"type": "utc", "nice": false, "domain": [{"year": 2017, "month": 1, "date": 13, "utc": true}, {"year": 2022, "month": 12, "date": 3, "utc": true}]},
                  "axis": {"values": [{"year": 2017, "month": 1, "date": 13, "utc": true}, {"year": 2017, "month": 4, "date": 13, "utc": true}, {"year": 2017, "month": 7, "date": 13, "utc": true}, {"year": 2017, "month": 10, "date": 13, "utc": true}, {"year": 2018, "month": 1, "date": 13, "utc": true}, {"year": 2018, "month": 4, "date": 13, "utc": true}, {"year": 2018, "month": 7, "date": 13, "utc": true}, {"year": 2018, "month": 10, "date": 13, "utc": true}, {"year": 2019, "month": 1, "date": 13, "utc": true}, {"year": 2019, "month": 4, "date": 13, "utc": true}, {"year": 2019, "month": 7, "date": 13, "utc": true}, {"year": 2019, "month": 10, "date": 13, "utc": true}, {"year": 2020, "month": 1, "date": 13, "utc": true}, {"year": 2020, "month": 4, "date": 13, "utc": true}, {"year": 2020, "month": 7, "date": 13, "utc": true}, {"year": 2020, "month": 10, "date": 13, "utc": true}, {"year": 2021, "month": 1, "date": 13, "utc": true}, {"year": 2021, "month": 4, "date": 13, "utc": true}, {"year": 2021, "month": 7, "date": 13, "utc": true}, {"year": 2021, "month": 10, "date": 13, "utc": true}, {"year": 2022, "month": 1, "date": 13, "utc": true}, {"year": 2022, "month": 4, "date": 13, "utc": true}, {"year": 2022, "month": 7, "date": 13, "utc": true}, {"year": 2022, "month": 10, "date": 13, "utc": true}],
                    "labelExpr": "utcFormat(datum.value, '%Y/%-m/%-d')", "labelAngle": 90, "labelFont": "DejaVu Sans Mono", "labelFontSize": 11, "labelPadding": 88, "labelOverlap": false, "labelBound": false, "labelFlush": false,
                    "offset": -83, "tickSize": 4, "tickColor": "#404040", "domainColor": "#404040", "domainWidth": 2}},
                "y": {"field": "v", "type": "quantitative",
                  "scale": {"domain": [-20, 20], "nice": false, "zero": false},
                  "axis": {"values": [-20, -15, -10, -5, 0, 5, 10, 15, 20], "labelExpr": "(datum.value < 0 ? '-' : '') + format(abs(datum.value), '.1f') + '%'", "domain": false, "ticks": false, "labelFont": "DejaVu Sans Mono", "labelFontSize": 10, "labelPadding": 9, "minExtent": 53}},
                "color": {"datum": "现货进口盈亏比例", "type": "nominal",
                  "scale": {"domain": ["现货进口盈亏比例"], "range": ["#B8202E"]},
                  "legend": {"title": null, "orient": "none", "direction": "horizontal", "legendX": 151, "legendY": -40, "symbolType": "stroke", "symbolSize": 576, "symbolStrokeWidth": 2, "labelFont": "Noto Sans CJK SC", "labelFontSize": 11, "labelColor": "#000000", "padding": 0}}
              }
            },
            {
              "width": 452, "height": 1,
              "data": {"values": [{}]},
              "title": {"text": "资料来源：WIND、SMM、上期所、LME、五矿期货研究中心", "orient": "bottom", "anchor": "start", "dx": 10, "offset": 8, "fontSize": 12.5},
              "mark": {"type": "rule", "color": "#595959", "strokeWidth": 1, "xOffset": -53},
              "encoding": {"x": {"datum": 0, "type": "quantitative", "scale": {"domain": [0, 1]}, "axis": null}, "x2": {"datum": 1}}
            }
          ],
          "spacing": 7
        }
      ],
      "spacing": 12
    }
  ],
  "spacing": 38
}
